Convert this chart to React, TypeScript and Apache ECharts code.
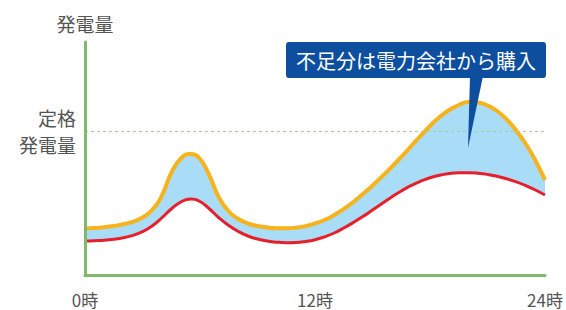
import React, { useEffect, useRef } from "react";
import * as echarts from "echarts";

const hours = [
  0, 0.5, 1, 1.5, 2, 2.5, 3, 3.5, 4, 4.5, 5, 5.5, 6, 6.5, 7, 7.5, 8, 8.5, 9, 9.5, 10, 10.5, 11, 11.5,
  12, 12.5, 13, 13.5, 14, 14.5, 15, 15.5, 16, 16.5, 17, 17.5, 18, 18.5, 19, 19.5, 20, 20.5, 21, 21.5,
  22, 22.5, 23, 23.5, 24,
];
const demand = [
  46.5, 47, 47.8, 49, 50.7, 53.3, 57.5, 65, 79, 102, 116.5, 121, 116, 99, 77, 63.5, 56, 51.5, 49, 47.5, 46.8, 46.7, 47.3, 48.8,
  51.5, 55, 60, 66, 73, 81, 89.5, 98.5, 108, 118, 128.5, 139, 149, 158, 165, 170, 173, 172.5, 169.5, 164,
  155.5, 144.5, 131, 114.5, 95,
];
const generation = [
  34, 34.3, 34.8, 35.8, 37.3, 39.6, 43.3, 49, 57, 66, 73, 76, 73.5, 66, 57, 49.5, 43.5, 39, 36, 34, 32.8, 32.3, 32.5, 33.5,
  35.3, 38.2, 42, 47, 52.5, 58.5, 65, 71.5, 78, 84, 89.3, 93.7, 97.2, 99.8, 101.4, 102.2, 102.3, 101.8, 100.6, 98.7,
  96.2, 93.1, 89.4, 85, 80,
];
const ratedOutput = 144;
const xTicks = [0, 12, 24];
const yAxisName = "発電量";
const ratedLabel = "定格\n発電量";
const calloutText = "不足分は電力会社から購入";

const FONT = "'Noto Sans CJK JP', 'Noto Sans', sans-serif";

export default function App() {
  const ref = useRef<HTMLDivElement>(null);
  useEffect(() => {
    if (!ref.current) return;
    const chart = echarts.init(ref.current, null, { renderer: "svg" });
    chart.setOption({
      animation: false,
      textStyle: { fontFamily: FONT },
      grid: { left: 85, right: 21, top: 42, bottom: 35 },
      xAxis: {
        type: "value",
        min: 0,
        max: 24,
        interval: 12,
        z: 10,
        axisLine: { show: true, lineStyle: { color: "#80b96c", width: 3 } },
        axisTick: { show: false },
        splitLine: { show: false },
        axisLabel: {
          formatter: (v: number) => (xTicks.includes(v) ? `${v}時` : ""),
          color: "#555",
          fontSize: 17,
          lineHeight: 18,
          margin: 15,
          fontFamily: FONT,
        },
      },
      yAxis: {
        type: "value",
        min: 0,
        max: 233,
        z: 10,
        name: yAxisName,
        nameLocation: "end",
        nameGap: 9,
        nameTextStyle: { color: "#555", fontSize: 19, fontFamily: FONT },
        axisLine: { show: true, lineStyle: { color: "#80b96c", width: 3 } },
        axisTick: { show: false },
        axisLabel: { show: false },
        splitLine: { show: false },
      },
      series: [
        {
          type: "line",
          name: "demand",
          data: hours.map((h, i) => [h, demand[i]]),
          smooth: 0.5,
          symbol: "none",
          lineStyle: { color: "#f6b31c", width: 4 },
          areaStyle: { color: "#a9dcf6", opacity: 1 },
          z: 2,
        },
        {
          type: "line",
          name: "generation",
          data: hours.map((h, i) => [h, generation[i]]),
          smooth: 0.5,
          symbol: "none",
          lineStyle: { color: "#e61f2b", width: 3 },
          areaStyle: { color: "#ffffff", opacity: 1 },
          z: 3,
          markLine: {
            silent: true,
            symbol: "none",
            lineStyle: { color: "#a8cf95", type: [3, 3], width: 1 },
            label: {
              show: true,
              position: "start",
              formatter: ratedLabel,
              color: "#555",
              fontSize: 19,
              lineHeight: 27,
              distance: 9,
              fontFamily: FONT,
            },
            data: [{ yAxis: ratedOutput }],
          },
        },
      ],
      graphic: [
        {
          type: "polygon",
          z: 10,
          shape: { points: [[470, 76], [483, 76], [468, 148]] },
          style: { fill: "#0d4f9e" },
        },
        {
          type: "rect",
          z: 10,
          shape: { x: 286, y: 42, width: 260, height: 36, r: 3 },
          style: { fill: "#0d4f9e" },
        },
        {
          type: "text",
          z: 11,
          x: 416,
          y: 60,
          style: {
            text: calloutText,
            fill: "#ffffff",
            fontSize: 20,
            fontFamily: FONT,
            align: "center",
            verticalAlign: "middle",
          },
        },
      ],
    });
    return () => chart.dispose();
  }, []);
  return <div ref={ref} style={{ width: 566, height: 310, position: "absolute", left: 0, top: 0 }} />;
}
